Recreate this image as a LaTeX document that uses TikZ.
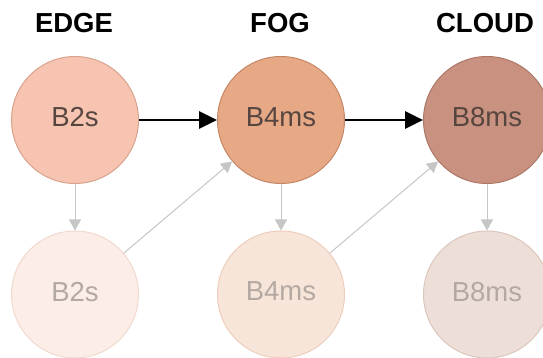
\documentclass[tikz,border=0pt]{standalone}
\usepackage{fontspec}
\setmainfont{Liberation Sans}
\usetikzlibrary{arrows.meta}
\definecolor{edgeFill}{HTML}{F6C4B0}
\definecolor{edgeLine}{HTML}{D8A28D}
\definecolor{fogFill}{HTML}{E6A885}
\definecolor{fogLine}{HTML}{C48766}
\definecolor{cloudFill}{HTML}{C9917F}
\definecolor{cloudLine}{HTML}{AD7767}
\definecolor{edgeFillL}{HTML}{FCEDE7}
\definecolor{edgeLineL}{HTML}{F0D9CF}
\definecolor{fogFillL}{HTML}{F8E5D9}
\definecolor{fogLineL}{HTML}{EDCDBB}
\definecolor{cloudFillL}{HTML}{EDDFD8}
\definecolor{cloudLineL}{HTML}{DDC6BC}
\definecolor{darkText}{HTML}{574640}
\definecolor{paleText}{HTML}{B3A8A2}
\definecolor{paleArrow}{HTML}{C6C6C6}
\tikzset{
  tier/.style={font=\bfseries\fontsize{27.5}{30}\selectfont, anchor=base, inner sep=0pt},
  vm/.style={circle, minimum size=127pt, inner sep=0pt, line width=1pt,
    font=\fontsize{27.5}{30}\selectfont, text depth=6pt, text=darkText},
  vmpale/.style={vm, text=paleText},
  main/.style={line width=2.7pt, -{Triangle[length=18pt,width=17pt]}},
  pale/.style={line width=1pt, draw=paleArrow, -{Triangle[length=11pt,width=12pt,fill=paleArrow]}}
}
\begin{document}
\begin{tikzpicture}[x=1pt,y=1pt]
\useasboundingbox (0,0) rectangle (543,358);
% column headings
\node[tier] (hEdge) at (74,325.7) {EDGE};
\node[tier] (hFog) at (280,325.7) {FOG};
\node[tier] (hCloud) at (485,325.7) {CLOUD};
% active instances
\node[vm, fill=edgeFill, draw=edgeLine] (t1) at (75,238) {B2s};
\node[vm, fill=fogFill, draw=fogLine] (t2) at (281,238) {B4ms};
\node[vm, fill=cloudFill, draw=cloudLine] (t3) at (487,238) {B8ms};
% faded instances
\node[vmpale, fill=edgeFillL, draw=edgeLineL] (b1) at (75,63.5) {B2s};
\node[vmpale, fill=fogFillL, draw=fogLineL] (b2) at (281,63.5) {B4ms};
\node[vmpale, fill=cloudFillL, draw=cloudLineL] (b3) at (487,63.5) {B8ms};
% connectors
\draw[main] (t1) -- (t2);
\draw[main] (t2) -- (t3);
\draw[pale] (t1) -- (b1);
\draw[pale] (t2) -- (b2);
\draw[pale] (t3) -- (b3);
\draw[pale] (b1) -- (t2);
\draw[pale] (b2) -- (t3);
\end{tikzpicture}
\end{document}
